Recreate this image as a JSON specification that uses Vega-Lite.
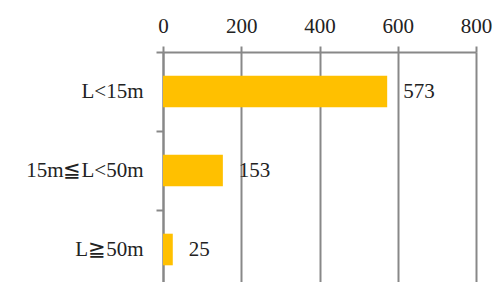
{
  "$schema": "https://vega.github.io/schema/vega-lite/v6.json",
  "autosize": "none",
  "padding": {"left": 163, "top": 52, "right": 19, "bottom": 0},
  "width": 313,
  "height": 237,
  "background": "white",
  "config": {
    "view": {"stroke": null},
    "font": "Liberation Serif",
    "axis": {"labelFont": "Liberation Serif", "labelColor": "#222", "labelFontSize": 21}
  },
  "data": {
    "values": [
      {"category": "L<15m", "count": 573},
      {"category": "15m≦L<50m", "count": 153},
      {"category": "L≧50m", "count": 25}
    ]
  },
  "encoding": {
    "y": {
      "field": "category",
      "type": "nominal",
      "sort": null,
      "title": null,
      "scale": {"paddingInner": 0, "paddingOuter": 0},
      "axis": {
        "orient": "left",
        "tickBand": "extent",
        "ticks": true,
        "tickSize": 7,
        "tickWidth": 2,
        "tickColor": "#888",
        "domain": true,
        "domainColor": "#888",
        "domainWidth": 2,
        "labelPadding": 13,
        "labelFontSize": 21,
        "grid": false
      }
    },
    "x": {
      "field": "count",
      "type": "quantitative",
      "title": null,
      "scale": {"domain": [0, 800], "nice": false},
      "axis": {
        "orient": "top",
        "values": [0, 200, 400, 600, 800],
        "tickSize": 6,
        "tickWidth": 2,
        "tickColor": "#888",
        "domainColor": "#888",
        "domainWidth": 2,
        "grid": true,
        "gridColor": "#888",
        "gridWidth": 2,
        "gridOpacity": 1,
        "labelPadding": 10,
        "labelFontSize": 21,
        "labelFlush": false
      }
    }
  },
  "layer": [
    {
      "mark": {"type": "bar", "color": "#FFC000", "height": {"band": 0.4}}
    },
    {
      "mark": {"type": "text", "align": "left", "baseline": "middle", "dx": 16, "fontSize": 21, "font": "Liberation Serif", "color": "#222"},
      "encoding": {"text": {"field": "count", "type": "quantitative"}}
    }
  ]
}
